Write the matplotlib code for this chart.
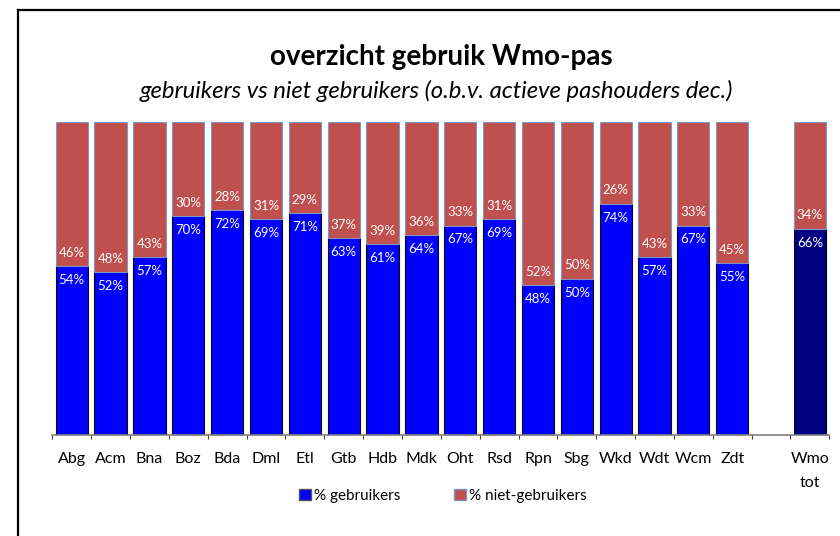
import numpy as np
import matplotlib.pyplot as plt
from matplotlib.lines import Line2D

plt.rcParams['font.family'] = ['Lato', 'DejaVu Sans']

labels = ['Abg', 'Acm', 'Bna', 'Boz', 'Bda', 'Dml', 'Etl', 'Gtb', 'Hdb', 'Mdk',
          'Oht', 'Rsd', 'Rpn', 'Sbg', 'Wkd', 'Wdt', 'Wcm', 'Zdt', 'Wmo\ntot']
gebruikers = [54, 52, 57, 70, 72, 69, 71, 63, 61, 64, 67, 69, 48, 50, 74, 57, 67, 55, 66]
niet_gebruikers = [46, 48, 43, 30, 28, 31, 29, 37, 39, 36, 33, 31, 52, 50, 26, 43, 33, 45, 34]

# one empty slot before the total bar
pos = np.array(list(range(18)) + [19])
g = np.array(gebruikers) / 100
n = np.array(niet_gebruikers) / 100
blue_cols = ['#0000ff'] * 18 + ['#000080']

fig = plt.figure(figsize=(8.4, 5.36), dpi=100)
ax = fig.add_axes([0.0623, 0.1884, 0.925, 0.5834])

ax.bar(pos, g, width=0.83, color=blue_cols, edgecolor='black', linewidth=0.8)
ax.bar(pos, n, bottom=g, width=0.83, color='#c0504d', edgecolor='#7f96c4', linewidth=0.8)

for x, a, b in zip(pos, g, n):
    ax.annotate(f'{round(a * 100)}%', (x, a), xytext=(0, -10), textcoords='offset points',
                ha='center', va='center', color='white', fontsize=9.5)
    ax.annotate(f'{round(b * 100)}%', (x, a), xytext=(0, 9.5), textcoords='offset points',
                ha='center', va='center', color='white', fontsize=9.5)

ax.set_xlim(-0.5, 19.5)
ax.set_ylim(0, 1)
ax.set_xticks(pos)
ax.set_xticklabels(labels, fontsize=11.5, va='top', linespacing=1.9)
ax.set_xticks(np.arange(-0.5, 20, 1), minor=True)
ax.tick_params(axis='x', which='major', length=0, pad=12)
ax.tick_params(axis='x', which='minor', length=3, color='#404040', width=0.8)
ax.set_yticks([])
for s in ['top', 'right', 'left']:
    ax.spines[s].set_visible(False)
ax.spines['bottom'].set_color('#808080')
ax.spines['bottom'].set_linewidth(1.2)

fig.text(0.525, 0.893, 'overzicht gebruik Wmo-pas', ha='center', va='center',
         fontsize=20, fontweight='bold')
fig.text(0.52, 0.831, 'gebruikers vs niet gebruikers (o.b.v. actieve pashouders dec.)',
         ha='center', va='center', fontsize=17.2, style='italic')

handles = [plt.Rectangle((0, 0), 1, 1, facecolor='#0000ff', edgecolor='#555555'),
           plt.Rectangle((0, 0), 1, 1, facecolor='#c0504d', edgecolor='#7f96c4')]
fig.legend(handles, ['% gebruikers', '% niet-gebruikers'], loc='center',
           bbox_to_anchor=(0.527, 0.075), ncol=2, frameon=False, fontsize=11,
           handlelength=0.8, handleheight=0.8, handletextpad=0.2, columnspacing=3.5)

# chart frame (cropped on right and bottom)
fig.add_artist(Line2D([0.0214, 0.0214], [0, 0.981], color='black', lw=1.6))
fig.add_artist(Line2D([0.0214, 1], [0.981, 0.981], color='black', lw=1.6))

fig.savefig('out.png', dpi=100)
